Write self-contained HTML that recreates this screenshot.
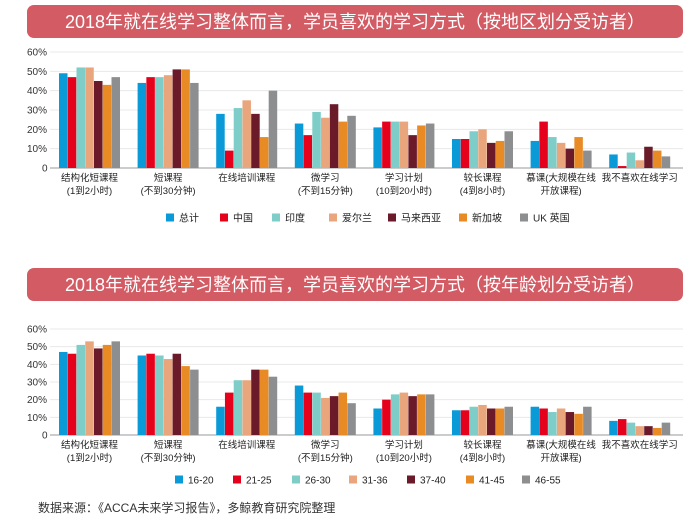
<!DOCTYPE html>
<html><head><meta charset="utf-8"><style>
html,body{margin:0;padding:0;background:#fff;}
svg{display:block;font-family:"Liberation Sans","Noto Sans CJK SC",sans-serif;}
</style></head><body>
<svg id="s" width="700" height="519" viewBox="0 0 700 519" xmlns="http://www.w3.org/2000/svg">
<rect x="27" y="5" width="656" height="33" rx="7" fill="#d35b64"/>
<text x="355" y="28" font-size="18" fill="#fff" text-anchor="middle">2018年就在线学习整体而言，学员喜欢的学习方式（按地区划分受访者）</text>
<rect x="27" y="268" width="656" height="33" rx="7" fill="#d35b64"/>
<text x="355" y="291" font-size="18" fill="#fff" text-anchor="middle">2018年就在线学习整体而言，学员喜欢的学习方式（按年龄划分受访者）</text>
<text x="38" y="512" font-size="12" fill="#333">数据来源：《ACCA未来学习报告》，多鲸教育研究院整理</text>
<g id="c1"></g><g id="c2"></g>
</svg>
<script>
var cols=["#0a9ad8","#e5001c","#7ecdc8","#e9a57c","#6b1a2a","#e98b25","#8c8e90"];
var cats=[["结构化短课程","(1到2小时)"],["短课程","(不到30分钟)"],["在线培训课程",""],["微学习","(不到15分钟)"],["学习计划","(10到20小时)"],["较长课程","(4到8小时)"],["慕课(大规模在线","开放课程)"],["我不喜欢在线学习",""]];
var d1=[[49,47,52,52,45,43,47],[44,47,47,48,51,51,44],[28,9,31,35,28,16,40],[23,17,29,26,33,24,27],[21,24,24,24,17,22,23],[15,15,19,20,13,14,19],[14,24,16,13,10,16,9],[7,1,8,4,11,9,6]];
var d2=[[47,46,51,53,49,51,53],[45,46,45,43,46,39,37],[16,24,31,31,37,37,33],[28,24,24,21,22,24,18],[15,20,23,24,22,23,23],[14,14,16,17,15,15,16],[16,15,13,15,13,12,16],[8,9,7,5,5,4,7]];
var NS="http://www.w3.org/2000/svg";
function el(g,t,a,txt){var e=document.createElementNS(NS,t);for(var k in a)e.setAttribute(k,a[k]);if(txt!=null)e.textContent=txt;g.appendChild(e);return e;}
function chart(id,data,y0,y60,ly,legend,lx){
 var g=document.getElementById(id);var st=(y0-y60)/60;
 for(var i=0;i<=6;i++){var y=y0-i*10*st;
  el(g,"line",{x1:50,x2:683,y1:y,y2:y,stroke:i==0?"#999":"#e8e8e8","stroke-width":1});
  el(g,"text",{x:i==0?42:27,y:y+3.5,"font-size":10,fill:"#333"},i==0?"0":(i*10)+"%");}
 for(var c=0;c<8;c++){var gx=59+c*78.6;
  for(var b=0;b<7;b++){var h=data[c][b]*st;
   el(g,"rect",{x:gx+b*8.75,y:y0-h,width:8.5,height:h,fill:cols[b]});}
  var cx=gx+30.5;
  el(g,"text",{x:cx,y:y0+13,"font-size":9.5,fill:"#222","text-anchor":"middle"},cats[c][0]);
  if(cats[c][1])el(g,"text",{x:cx,y:y0+26,"font-size":9.5,fill:"#222","text-anchor":"middle"},cats[c][1]);}
 for(var j=0;j<7;j++){el(g,"rect",{x:lx[j],y:ly-4.5,width:8,height:8,fill:cols[j]});
  el(g,"text",{x:lx[j]+13,y:ly+3.5,"font-size":10,fill:"#222"},legend[j]);}
}
chart("c1",d1,168,52,218,["总计","中国","印度","爱尔兰","马来西亚","新加坡","UK 英国"],[166,220,272,329,388,459,520]);
chart("c2",d2,435,329,480,["16-20","21-25","26-30","31-36","37-40","41-45","46-55"],[175,233,292,349,407,466,522]);
</script>
</body></html>
